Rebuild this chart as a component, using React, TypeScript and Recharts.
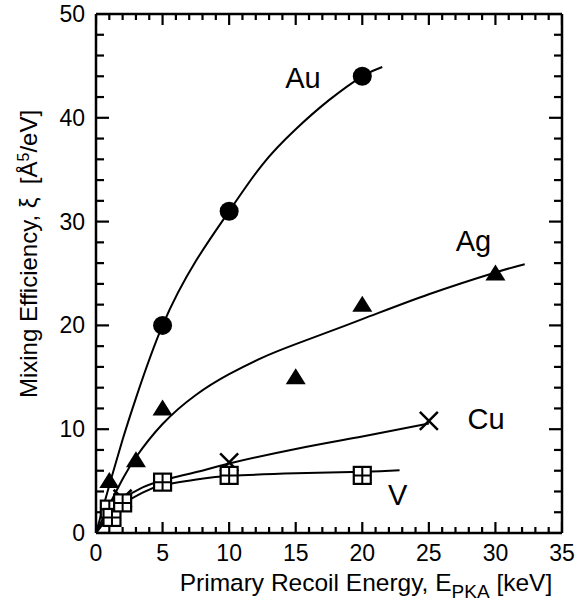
import React from 'react'
import {
  ComposedChart, Line, Scatter, XAxis, YAxis
} from 'recharts'

// measured points (symbols)
const auPoints = [{ x: 5, y: 20 }, { x: 10, y: 31 }, { x: 20, y: 44 }]
const agPoints = [
  { x: 1, y: 5 }, { x: 3, y: 7 }, { x: 5, y: 12 },
  { x: 15, y: 15 }, { x: 20, y: 22 }, { x: 30, y: 25 }
]
const cuPoints = [{ x: 2, y: 3.3 }, { x: 10, y: 6.8 }, { x: 25, y: 10.8 }]
const vPoints = [
  { x: 1, y: 2.3 }, { x: 1.2, y: 1.5 }, { x: 2, y: 2.9 },
  { x: 5, y: 4.9 }, { x: 10, y: 5.55 }, { x: 20, y: 5.55 }
]

// fitted curves
const auCurve = [
  { x: 0, y: 0 }, { x: 1, y: 4.6 }, { x: 2, y: 9 }, { x: 3, y: 13 },
  { x: 5, y: 20 }, { x: 7.5, y: 26.2 }, { x: 10, y: 31 }, { x: 12.5, y: 35.5 },
  { x: 15, y: 38.9 }, { x: 17.5, y: 41.7 }, { x: 20, y: 44 }, { x: 21.5, y: 44.9 }
]
const agCurve = [
  { x: 0, y: 0 }, { x: 1, y: 2.7 }, { x: 2, y: 5.2 }, { x: 3, y: 7.3 },
  { x: 5, y: 10.5 }, { x: 7.5, y: 13.3 }, { x: 10, y: 15.3 }, { x: 12.5, y: 16.9 },
  { x: 15, y: 18.2 }, { x: 20, y: 20.6 }, { x: 25, y: 23 }, { x: 30, y: 25.1 },
  { x: 32.2, y: 25.9 }
]
const cuCurve = [
  { x: 0, y: 0 }, { x: 1, y: 1.9 }, { x: 2, y: 3.2 }, { x: 3.5, y: 4.4 },
  { x: 5.7, y: 5.3 }, { x: 7.8, y: 5.95 }, { x: 10, y: 6.7 }, { x: 15, y: 8.1 },
  { x: 20, y: 9.3 }, { x: 25, y: 10.55 }
]
const vCurve = [
  { x: 0, y: 0 }, { x: 1, y: 1.6 }, { x: 2, y: 2.8 }, { x: 3.5, y: 3.9 },
  { x: 5, y: 4.6 }, { x: 7.8, y: 5.2 }, { x: 10, y: 5.5 }, { x: 15, y: 5.75 },
  { x: 20, y: 5.9 }, { x: 22.8, y: 6.05 }
]

// element names written next to the curves
const seriesLabels = [
  { name: 'Au', x: 15.55, y: 43.9 },
  { name: 'Ag', x: 28.35, y: 28.2 },
  { name: 'Cu', x: 29.3, y: 11 },
  { name: 'V', x: 22.65, y: 3.66 }
]

// every tick position; majors get a label and a longer mark
const xTicks = [0, 1, 2, 3, 4, 5, 6, 7, 8, 9, 10, 11, 12, 13, 14, 15, 16, 17, 18, 19, 20,
  21, 22, 23, 24, 25, 26, 27, 28, 29, 30, 31, 32, 33, 34, 35]
const yTicks = [0, 2, 4, 6, 8, 10, 12, 14, 16, 18, 20, 22, 24, 26, 28, 30, 32, 34, 36, 38, 40,
  42, 44, 46, 48, 50]

// inward tick marks on all four sides, placed through the chart scales
const bottomMarks = xTicks.map(v => ({ x: v, y: 0 }))
const topMarks = xTicks.map(v => ({ x: v, y: 50 }))
const leftMarks = yTicks.map(v => ({ x: 0, y: v }))
const rightMarks = yTicks.map(v => ({ x: 35, y: v }))

const circle = (p: any) => <circle cx={p.cx} cy={p.cy} r={9.5} fill="#000" />
const triangle = (p: any) => (
  <path
    d={`M${p.cx},${p.cy - 9} L${p.cx + 10},${p.cy + 7} L${p.cx - 10},${p.cy + 7} Z`}
    fill="#000"
  />
)
const cross = (p: any) => (
  <path
    d={`M${p.cx - 9},${p.cy - 9} L${p.cx + 9},${p.cy + 9} M${p.cx + 9},${p.cy - 9} L${p.cx - 9},${p.cy + 9}`}
    stroke="#000" strokeWidth={2.5} fill="none"
  />
)
const boxPlus = (p: any) => (
  <g>
    <rect x={p.cx - 8.5} y={p.cy - 8.5} width={17} height={17} fill="#fff" stroke="#000" strokeWidth={2.2} />
    <path d={`M${p.cx - 8.5},${p.cy} L${p.cx + 8.5},${p.cy} M${p.cx},${p.cy - 8.5} L${p.cx},${p.cy + 8.5}`}
      stroke="#000" strokeWidth={2} />
  </g>
)
const nameText = (p: any) => (
  <text x={p.cx} y={p.cy + 10.4} textAnchor="middle" fontSize={29} fill="#000">{p.payload.name}</text>
)

const xLen = (v: number) => (v % 5 === 0 ? 11 : 6)
const yLen = (v: number) => (v % 10 === 0 ? 13 : 8)
const markUp = (p: any) => <path d={`M${p.cx},${p.cy} L${p.cx},${p.cy - xLen(p.payload.x)}`} stroke="#000" strokeWidth={2.2} fill="none" />
const markDown = (p: any) => <path d={`M${p.cx},${p.cy} L${p.cx},${p.cy + xLen(p.payload.x)}`} stroke="#000" strokeWidth={2.2} fill="none" />
const markRight = (p: any) => <path d={`M${p.cx},${p.cy} L${p.cx + yLen(p.payload.y)},${p.cy}`} stroke="#000" strokeWidth={2.2} fill="none" />
const markLeft = (p: any) => <path d={`M${p.cx},${p.cy} L${p.cx - yLen(p.payload.y)},${p.cy}`} stroke="#000" strokeWidth={2.2} fill="none" />

// tick labels only for the major values
const BottomTick = (p: any) => {
  const v = p.payload.value
  if (v % 5 !== 0) return <g />
  return <text x={p.x} y={p.y + 28} textAnchor="middle" fontSize={23} fill="#000">{v}</text>
}
const LeftTick = (p: any) => {
  const v = p.payload.value
  if (v % 10 !== 0) return <g />
  return <text x={p.x - 11} y={p.y + 8} textAnchor="end" fontSize={23} fill="#000">{v}</text>
}

const axisLine = { stroke: '#000', strokeWidth: 2.5 }

export default function App() {
  return (
    <div style={{ position: 'absolute', left: 0, top: 0, width: 581, height: 604, background: '#fff', fontFamily: '"Liberation Sans", Arial, sans-serif', color: '#000' }}>
      <ComposedChart width={581} height={604} margin={{ top: 0, right: 0, bottom: 0, left: 0 }}>
        <XAxis xAxisId="x" dataKey="x" type="number" domain={[0, 35]} ticks={xTicks} interval={0} allowDataOverflow
          orientation="bottom" height={71} axisLine={axisLine} tickLine={false} tickSize={0} tickMargin={0}
          tick={BottomTick} />
        <XAxis xAxisId="xt" type="number" domain={[0, 35]} ticks={xTicks} interval={0} allowDataOverflow
          orientation="top" height={14} axisLine={axisLine} tickLine={false} tick={false} />
        <YAxis yAxisId="y" dataKey="y" type="number" domain={[0, 50]} ticks={yTicks} interval={0} allowDataOverflow
          orientation="left" width={96} axisLine={axisLine} tickLine={false} tickSize={0} tickMargin={0}
          tick={LeftTick} />
        <YAxis yAxisId="yr" type="number" domain={[0, 50]} ticks={yTicks} interval={0} allowDataOverflow
          orientation="right" width={19} axisLine={axisLine} tickLine={false} tick={false} />

        <Scatter data={bottomMarks} dataKey="y" xAxisId="x" yAxisId="y" shape={markUp} isAnimationActive={false} />
        <Scatter data={topMarks} dataKey="y" xAxisId="x" yAxisId="y" shape={markDown} isAnimationActive={false} />
        <Scatter data={leftMarks} dataKey="y" xAxisId="x" yAxisId="y" shape={markRight} isAnimationActive={false} />
        <Scatter data={rightMarks} dataKey="y" xAxisId="x" yAxisId="y" shape={markLeft} isAnimationActive={false} />

        <Line data={auCurve} dataKey="y" xAxisId="x" yAxisId="y" type="natural" stroke="#000" strokeWidth={2} dot={false} activeDot={false} isAnimationActive={false} />
        <Line data={agCurve} dataKey="y" xAxisId="x" yAxisId="y" type="natural" stroke="#000" strokeWidth={2} dot={false} activeDot={false} isAnimationActive={false} />
        <Line data={cuCurve} dataKey="y" xAxisId="x" yAxisId="y" type="natural" stroke="#000" strokeWidth={2} dot={false} activeDot={false} isAnimationActive={false} />
        <Line data={vCurve} dataKey="y" xAxisId="x" yAxisId="y" type="natural" stroke="#000" strokeWidth={2} dot={false} activeDot={false} isAnimationActive={false} />

        <Scatter data={agPoints} dataKey="y" xAxisId="x" yAxisId="y" shape={triangle} isAnimationActive={false} />
        <Scatter data={auPoints} dataKey="y" xAxisId="x" yAxisId="y" shape={circle} isAnimationActive={false} />
        <Scatter data={cuPoints} dataKey="y" xAxisId="x" yAxisId="y" shape={cross} isAnimationActive={false} />
        <Scatter data={vPoints} dataKey="y" xAxisId="x" yAxisId="y" shape={boxPlus} isAnimationActive={false} />
        <Scatter data={seriesLabels} dataKey="y" xAxisId="x" yAxisId="y" shape={nameText} isAnimationActive={false} />
      </ComposedChart>

      {/* axis titles */}
      <div style={{ position: 'absolute', left: 366, top: 571, transform: 'translateX(-50%)', fontSize: 24.5, lineHeight: '24.5px', whiteSpace: 'nowrap' }}>
        Primary Recoil Energy, E<span style={{ fontSize: 19, position: 'relative', top: 7 }}>PKA</span> [keV]
      </div>
      <div style={{ position: 'absolute', left: 30, top: 254, transform: 'translate(-50%, -50%) rotate(-90deg)', fontSize: 24, lineHeight: '24px', whiteSpace: 'nowrap' }}>
        Mixing Efficiency, ξ&nbsp; [Å<span style={{ fontSize: 16, position: 'relative', top: -8 }}>5</span>/eV]
      </div>
    </div>
  )
}
